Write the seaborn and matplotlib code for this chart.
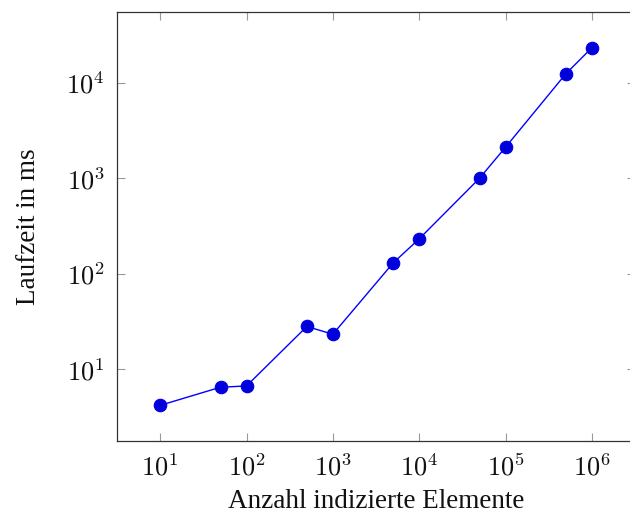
import matplotlib
matplotlib.use("Agg")
import matplotlib.pyplot as plt
import seaborn as sns
import pandas as pd
import numpy as np
from matplotlib.ticker import FixedLocator, NullLocator, FuncFormatter

elements = [10, 50, 100, 500, 1000, 5000, 10000, 50000, 100000, 500000, 1000000]
runtime_ms = [4.2, 6.5, 6.7, 28.1, 23.3, 130, 232, 1000, 2110, 12400, 23200]
x_ticks = [1e1, 1e2, 1e3, 1e4, 1e5, 1e6]
y_ticks = [1e1, 1e2, 1e3, 1e4]

df = pd.DataFrame({"Anzahl": elements, "Laufzeit": runtime_ms})

sns.set_theme(style="white")
plt.rcParams["font.family"] = ["Liberation Serif", "DejaVu Serif"]
plt.rcParams["mathtext.fontset"] = "cm"

fig = plt.figure(figsize=(6.3, 5.16), dpi=100)
W, H = 630, 516
left, right, top, bottom = 117, 635, 12, 441
ax = fig.add_axes([left / W, (H - bottom) / H, (right - left) / W, (bottom - top) / H])

sns.lineplot(data=df, x="Anzahl", y="Laufzeit", ax=ax, color="#0000ff",
             linewidth=1.0, marker="o", markersize=9, markeredgecolor="#0000dd",
             markerfacecolor="#0000dd", markeredgewidth=0.8)

ax.set_xscale("log")
ax.set_yscale("log")
ax.set_xlim(10 ** 0.5, 10 ** 6.5)
ax.set_ylim(10 ** 0.25, 10 ** 4.74)

fmt = FuncFormatter(lambda v, p: r"$10^{%d}$" % int(round(np.log10(v))))
ax.xaxis.set_major_locator(FixedLocator(x_ticks))
ax.yaxis.set_major_locator(FixedLocator(y_ticks))
ax.xaxis.set_minor_locator(NullLocator())
ax.yaxis.set_minor_locator(NullLocator())
ax.xaxis.set_major_formatter(fmt)
ax.yaxis.set_major_formatter(fmt)

ax.tick_params(axis="both", which="major", direction="in", length=6, width=0.8,
               color="#999999", labelsize=19, labelcolor="#111111",
               top=True, right=True, bottom=True, left=True)
ax.tick_params(axis="x", pad=9)
ax.tick_params(axis="y", pad=9)

for s in ax.spines.values():
    s.set_color("#333333")
    s.set_linewidth(0.9)
    s.set_visible(True)

ax.set_xlabel("Anzahl indizierte Elemente", fontsize=19.5, labelpad=6, color="#111111")
ax.set_ylabel("Laufzeit in ms", fontsize=19.5, labelpad=18, color="#111111")
ax.grid(False)

fig.savefig("out.png", dpi=100)
